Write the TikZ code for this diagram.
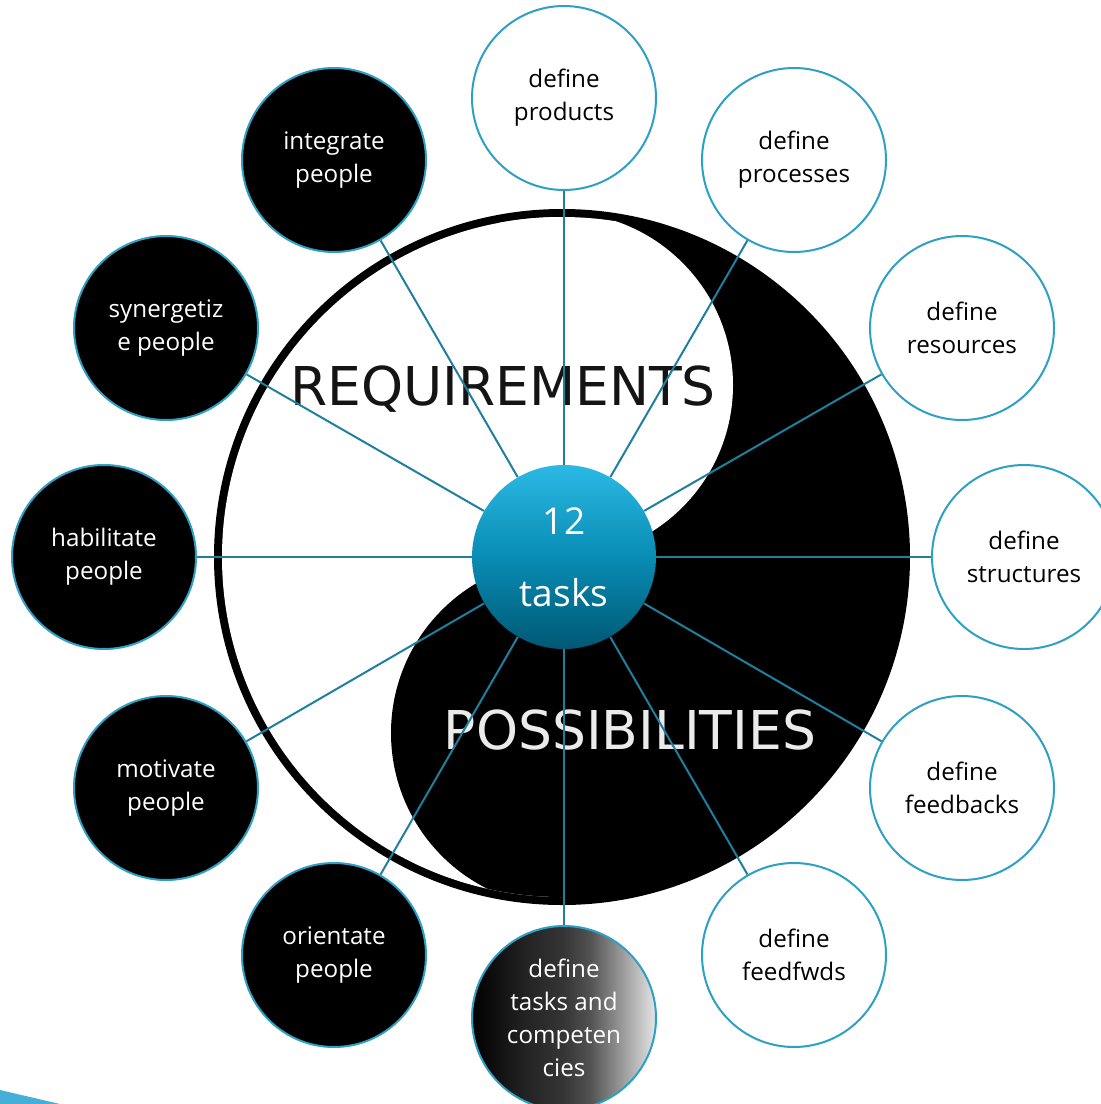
\documentclass[tikz,border=0pt]{standalone}
\usepackage{fontspec}
\setmainfont{Open Sans}
\newfontfamily\dejavu{DejaVu Sans}
\definecolor{linkc}{RGB}{30,128,158}
\definecolor{ringc}{RGB}{45,160,195}
\definecolor{hubtop}{RGB}{43,186,228}
\definecolor{hubmid}{RGB}{8,140,180}
\definecolor{hubbot}{RGB}{0,88,115}
\definecolor{decoc}{RGB}{70,175,215}
\pgfdeclarehorizontalshading{taskshade}{100bp}{color(0bp)=(black); color(25bp)=(black); color(40bp)=(black!86); color(50bp)=(black!79); color(57bp)=(black!68); color(65bp)=(black!42); color(75bp)=(black!10); color(100bp)=(black!10)}
\begin{document}
\begin{tikzpicture}[x=0.5pt,y=-0.5pt,
  task/.style={circle, minimum size=92pt, inner sep=0pt, align=center, draw=ringc, line width=1pt, font=\fontsize{12.1}{16.5}\selectfont},
  blacktask/.style={task, fill=black, text=white},
  whitetask/.style={task, fill=white, text=black},
  gradtask/.style={task, shading=taskshade, text=white},
  hub/.style={circle, minimum size=92pt, inner sep=0pt, align=center, top color=hubtop, bottom color=hubbot, middle color=hubmid, text=white, font=\fontsize{18.5}{36}\selectfont},
  link/.style={draw=linkc, line width=1pt},
  bigword/.style={font=\dejavu\fontsize{26.75}{27}\selectfont, inner sep=0pt}]
\useasboundingbox (0,0) rectangle (1101,1104);
\clip (0,0) rectangle (1101,1104);
% yin-yang
\fill[black] (562,557) circle[radius=348];
\begin{scope}
  \clip (562,557) circle[radius=340];
  \fill[white] (200,200) rectangle (562,920);
  \fill[white] (560,385) circle[radius=173];
  \fill[black] (565,733) circle[radius=174];
\end{scope}
\node[bigword, text=black!92, anchor=base] (req) at (503,405) {REQUIREMENTS};
\node[bigword, text=white!92!black, anchor=base] (pos) at (630,749) {POSSIBILITIES};
% decoration
\fill[decoc] (0,1090) -- (60,1104) -- (0,1104) -- cycle;
% nodes
\node[hub] (hub) at (564,557) {12\\tasks};
\node[whitetask] (prod) at (564,98) {define\\products};
\node[whitetask] (proc) at (794,160) {define\\processes};
\node[whitetask] (res) at (962,328) {define\\resources};
\node[whitetask] (struc) at (1024,557) {define\\structures};
\node[whitetask] (fb) at (962,788) {define\\feedbacks};
\node[whitetask] (ff) at (794,955) {define\\feedfwds};
\node[gradtask] (tc) at (564,1018) {define\\tasks and\\competen\\cies};
\node[blacktask] (ori) at (334,955) {orientate\\people};
\node[blacktask] (mot) at (166,788) {motivate\\people};
\node[blacktask] (hab) at (104,557) {habilitate\\people};
\node[blacktask] (syn) at (166,328) {synergetiz\\e people};
\node[blacktask] (int) at (334,160) {integrate\\people};
\foreach \n in {prod,proc,res,struc,fb,ff,tc,ori,mot,hab,syn,int}
  \draw[link] (hub) -- (\n);
\end{tikzpicture}
\end{document}
